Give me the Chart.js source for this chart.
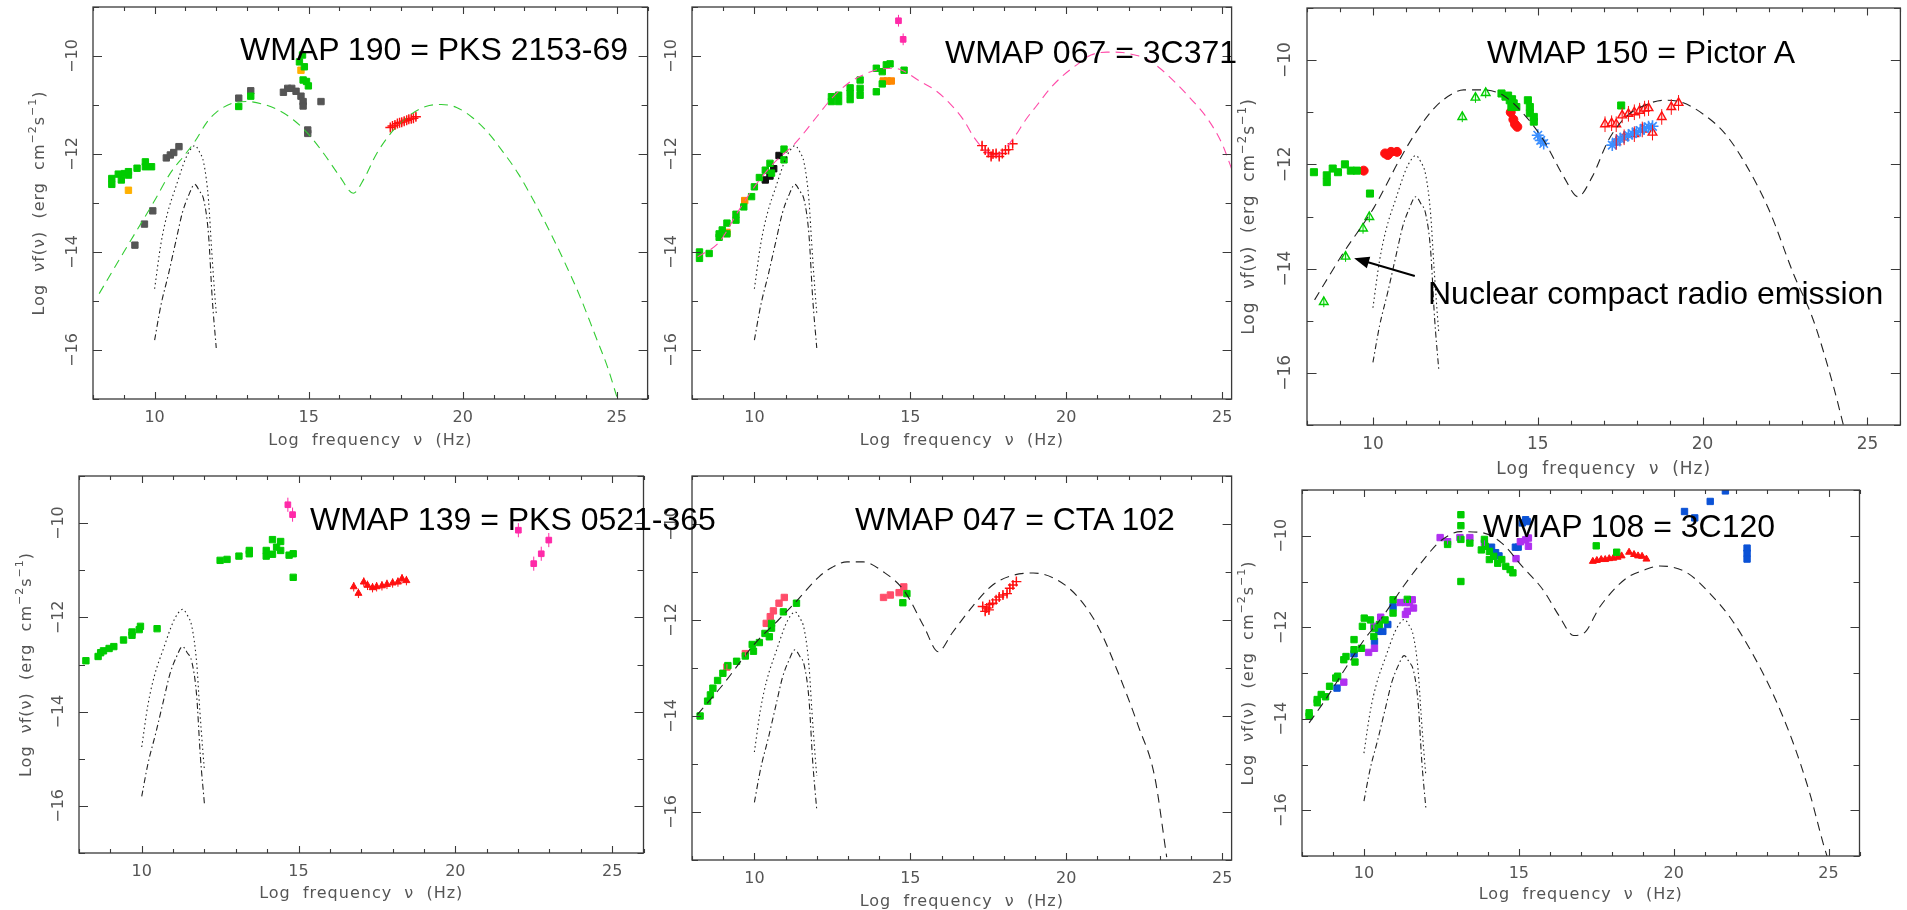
<!DOCTYPE html>
<html>
<head>
<meta charset="utf-8">
<script src="https://cdn.jsdelivr.net/npm/chart.js@4.4.1/dist/chart.umd.min.js"></script>
<style>
html, body { margin: 0; padding: 0; background: #fff; }
#stage { position: relative; width: 1907px; height: 910px; overflow: hidden; }
#stage canvas { position: absolute; }
#labels { position: absolute; left: 0; top: 0; pointer-events: none; }
#labels text { font-family: "Liberation Sans", Arial, sans-serif; font-size: 32px; fill: #000; }
</style>
</head>
<body>
<div id="stage">
  <canvas id="c1"></canvas>
  <canvas id="c2"></canvas>
  <canvas id="c3"></canvas>
  <canvas id="c4"></canvas>
  <canvas id="c5"></canvas>
  <canvas id="c6"></canvas>
  <svg id="labels" width="1907" height="910">
    <text x="240" y="60">WMAP 190 = PKS 2153-69</text>
    <text x="945" y="63">WMAP 067 = 3C371</text>
    <text x="1487" y="63">WMAP 150 = Pictor A</text>
    <text x="1428" y="304">Nuclear compact radio emission</text>
    <text x="310" y="530">WMAP 139 = PKS 0521-365</text>
    <text x="855" y="530">WMAP 047 = CTA 102</text>
    <text x="1483" y="537">WMAP 108 = 3C120</text>
  </svg>
</div>
<script>
// ---- shared WMAP curves (log nu, log nuF) ----
const wmapUpper = [[10.0,-14.75],[10.2,-13.85],[10.4,-13.25],[10.7,-12.65],[11.0,-12.1],[11.15,-11.92],[11.3,-11.83],[11.45,-11.95],[11.6,-12.2],[11.75,-12.95],[11.85,-13.95],[11.95,-14.85],[12.0,-15.25]];
const wmapLower = [[10.0,-15.8],[10.2,-15.1],[10.45,-14.45],[10.7,-13.75],[10.9,-13.2],[11.1,-12.85],[11.3,-12.62],[11.45,-12.75],[11.6,-12.95],[11.75,-13.65],[11.87,-14.95],[12.0,-15.96]];

// ---- WMAP 190 = PKS 2153-69 ----
const p1Model = [[8.2,-14.85],[9.0,-14.0],[10.0,-12.95],[10.5,-12.4],[11.0,-12.0],[11.3,-11.75],[11.7,-11.35],[12.0,-11.15],[12.5,-10.97],[13.0,-10.93],[13.5,-10.98],[14.0,-11.1],[14.5,-11.3],[15.0,-11.6],[15.5,-12.0],[16.0,-12.45],[16.45,-12.8],[16.8,-12.5],[17.2,-12.0],[17.7,-11.55],[18.3,-11.2],[18.8,-11.03],[19.3,-10.99],[19.8,-11.05],[20.3,-11.25],[20.8,-11.55],[21.3,-11.95],[21.8,-12.4],[22.3,-12.95],[22.8,-13.55],[23.3,-14.2],[23.8,-14.9],[24.3,-15.7],[24.7,-16.35],[25.0,-16.95]];
const p1Green = [[8.61,-12.5],[8.61,-12.62],[8.82,-12.41],[8.92,-12.53],[9.02,-12.40],[9.15,-12.36],[9.15,-12.43],[9.43,-12.29],[9.7,-12.16],[9.7,-12.26],[9.9,-12.26],[12.73,-11.03],[13.12,-10.82],[14.7,-10.12],[14.8,-9.98],[14.86,-10.22],[14.82,-10.49],[14.93,-10.52],[14.99,-10.61]];
const p1Orange = [[9.15,-12.74],[14.75,-10.29]];
const p1Gray = [[9.36,-13.86],[9.67,-13.43],[9.94,-13.16],[10.38,-12.08],[10.51,-12.02],[10.62,-11.97],[10.79,-11.85],[12.73,-10.86],[13.12,-10.71],[14.18,-10.74],[14.32,-10.66],[14.45,-10.66],[14.59,-10.72],[14.75,-10.82],[14.82,-10.93],[14.82,-11.02],[14.97,-11.51],[14.97,-11.58],[15.4,-10.93]];
const p1Xray = [[17.65,-11.46],[17.72,-11.43],[17.8,-11.41],[17.88,-11.38],[17.95,-11.36],[18.02,-11.35],[18.1,-11.33],[18.18,-11.31],[18.25,-11.29],[18.33,-11.28],[18.4,-11.27],[18.48,-11.24]];

// ---- WMAP 067 = 3C371 ----
const p2Model = [[8.18,-14.1],[8.87,-13.8],[9.5,-13.15],[10.0,-12.67],[10.6,-12.2],[11.31,-11.78],[12.0,-11.24],[12.5,-10.85],[13.0,-10.56],[13.5,-10.38],[14.0,-10.27],[14.5,-10.25],[14.77,-10.3],[15.27,-10.5],[15.8,-10.7],[16.27,-10.97],[16.7,-11.3],[17.03,-11.65],[17.35,-11.9],[17.65,-12.05],[17.95,-11.95],[18.34,-11.65],[18.7,-11.3],[19.03,-11.03],[19.5,-10.65],[19.91,-10.39],[20.4,-10.15],[20.79,-9.98],[21.3,-9.92],[21.8,-9.93],[22.2,-9.98],[22.55,-10.05],[23.0,-10.25],[23.3,-10.42],[23.93,-10.83],[24.56,-11.31],[25.0,-11.8],[25.3,-12.3]];
const p2Green = [[8.24,-14.0],[8.24,-14.13],[8.55,-14.03],[8.87,-13.7],[8.87,-13.63],[8.97,-13.55],[9.12,-13.41],[9.12,-13.63],[9.41,-13.35],[9.41,-13.23],[9.66,-13.08],[9.91,-12.87],[10.0,-12.67],[10.16,-12.48],[10.35,-12.33],[10.5,-12.19],[10.55,-12.39],[10.95,-11.9],[10.95,-12.12],[12.47,-10.83],[12.47,-10.93],[12.7,-10.8],[12.7,-10.93],[13.07,-10.65],[13.07,-10.76],[13.07,-10.89],[13.39,-10.49],[13.39,-10.66],[13.39,-10.8],[13.91,-10.73],[13.91,-10.25],[14.1,-10.32],[14.1,-10.57],[14.23,-10.18],[14.35,-10.16],[14.8,-10.29]];
const p2Black = [[10.35,-12.53],[10.5,-12.45],[10.62,-12.3],[10.79,-12.03]];
const p2Orange = [[9.12,-13.6],[9.69,-12.95],[14.13,-10.51],[14.26,-10.51],[14.39,-10.51]];
const p2Pink = [[14.62,-9.28],[14.77,-9.66]];
const p2Xray = [[17.3,-11.83],[17.4,-11.92],[17.5,-11.97],[17.59,-12.05],[17.65,-12.0],[17.75,-11.99],[17.85,-12.05],[17.95,-11.99],[18.05,-11.92],[18.15,-11.91],[18.28,-11.79]];

// ---- WMAP 150 = Pictor A ----
const p3Model = [[8.23,-14.6],[9.09,-13.71],[10.04,-12.82],[10.8,-11.92],[11.28,-11.41],[11.89,-10.9],[12.4,-10.65],[12.75,-10.57],[13.35,-10.57],[13.96,-10.68],[14.57,-11.03],[15.18,-11.54],[15.79,-12.24],[16.22,-12.62],[16.65,-12.24],[17.14,-11.54],[17.62,-11.12],[18.23,-10.87],[18.85,-10.77],[19.33,-10.8],[20.07,-11.06],[20.68,-11.41],[21.29,-11.98],[22.02,-12.88],[22.75,-14.09],[23.36,-14.99],[23.97,-16.26],[24.27,-17.0]];
const p3Green = [[8.21,-12.15],[8.6,-12.21],[8.6,-12.34],[8.78,-12.08],[8.94,-12.15],[9.15,-12.0],[9.33,-12.12],[9.51,-12.12],[9.91,-12.56],[13.9,-10.64],[14.02,-10.7],[14.1,-10.68],[14.15,-10.77],[14.22,-10.75],[14.27,-10.83],[14.35,-10.9],[14.2,-10.9],[14.7,-10.77],[14.76,-10.9],[14.76,-11.02],[14.88,-11.09],[14.88,-11.18],[17.53,-10.87]];
const p3GreenTri = [[8.51,-14.64],[9.17,-13.77],[9.7,-13.23],[9.89,-13.01],[12.71,-11.09],[13.11,-10.72],[13.42,-10.63]];
const p3RedDot = [[9.72,-12.12],[10.37,-11.79],[10.45,-11.82],[10.55,-11.76],[10.73,-11.76],[14.18,-11.0],[14.26,-11.14],[14.31,-11.23],[14.38,-11.28]];
const p3BlueStar = [[15.0,-11.44],[15.09,-11.54],[15.18,-11.6],[17.26,-11.63],[17.38,-11.57],[17.5,-11.51],[17.62,-11.48],[17.75,-11.44],[17.87,-11.41],[17.99,-11.38],[18.11,-11.35],[18.23,-11.31],[18.36,-11.28],[18.48,-11.27]];
const p3RedTri = [[17.04,-11.23],[17.24,-11.21],[17.38,-11.23],[17.56,-11.06],[17.75,-11.03],[17.93,-11.0],[18.09,-10.97],[18.24,-10.93],[18.36,-10.92],[18.76,-11.09],[19.05,-10.9],[19.27,-10.82],[17.38,-11.57],[17.62,-11.48],[17.93,-11.42],[18.17,-11.33],[18.48,-11.39]];
const p3Arrow = [[11.27,-14.14],[9.43,-13.8]];

// ---- WMAP 139 = PKS 0521-365 ----
const p4Green = [[8.22,-12.92],[8.61,-12.83],[8.69,-12.75],[8.78,-12.71],[8.96,-12.66],[9.11,-12.62],[9.42,-12.48],[9.69,-12.38],[9.69,-12.31],[9.92,-12.26],[9.96,-12.19],[10.49,-12.24],[12.5,-10.79],[12.72,-10.77],[13.1,-10.7],[13.43,-10.65],[13.43,-10.58],[13.97,-10.58],[13.97,-10.7],[14.17,-10.35],[14.17,-10.66],[14.3,-10.51],[14.43,-10.58],[14.43,-10.39],[14.7,-10.68],[14.83,-10.65],[14.83,-11.15]];
const p4Pink = [[14.66,-9.61],[14.81,-9.82],[22.01,-10.15],[22.5,-10.86],[22.74,-10.65],[22.98,-10.36]];
const p4RedTri = [[16.76,-11.35],[16.91,-11.49],[17.08,-11.25],[17.2,-11.32],[17.36,-11.37],[17.49,-11.35],[17.66,-11.33],[17.82,-11.3],[18.0,-11.27],[18.17,-11.25],[18.3,-11.18],[18.44,-11.22]];

// ---- WMAP 047 = CTA 102 ----
const p5Model = [[8.17,-13.97],[8.95,-13.38],[10.03,-12.48],[10.77,-12.0],[11.29,-11.65],[12.07,-11.1],[12.5,-10.9],[12.97,-10.79],[13.49,-10.79],[14.14,-11.0],[14.79,-11.38],[15.44,-12.14],[15.89,-12.66],[16.34,-12.27],[16.99,-11.72],[17.64,-11.27],[18.29,-11.07],[18.94,-11.02],[19.72,-11.17],[20.37,-11.52],[21.02,-12.14],[21.67,-13.11],[22.31,-14.21],[22.83,-15.25],[23.22,-16.94]];
const p5Green = [[8.26,-14.0],[8.5,-13.69],[8.59,-13.56],[8.67,-13.42],[8.82,-13.26],[8.99,-13.11],[9.15,-12.95],[9.43,-12.86],[9.71,-12.75],[9.97,-12.65],[9.93,-12.51],[10.16,-12.47],[10.34,-12.28],[10.48,-12.35],[10.55,-12.17],[10.55,-12.07],[10.93,-11.83],[11.35,-11.65],[14.76,-11.64],[14.89,-11.45]];
const p5Salmon = [[9.12,-12.98],[9.71,-12.7],[10.38,-12.07],[10.51,-11.93],[10.61,-11.81],[10.79,-11.65],[10.96,-11.53],[14.14,-11.53],[14.36,-11.48],[14.64,-11.43],[14.79,-11.31]];
const p5Xray = [[17.32,-11.72],[17.4,-11.82],[17.45,-11.75],[17.52,-11.79],[17.54,-11.68],[17.64,-11.65],[17.75,-11.58],[17.85,-11.52],[17.97,-11.48],[18.1,-11.45],[18.19,-11.34],[18.29,-11.27],[18.4,-11.2]];

// ---- WMAP 108 = 3C120 ----
const p6Model = [[8.23,-14.09],[8.76,-13.58],[9.4,-12.9],[10.01,-12.27],[10.61,-11.76],[11.27,-11.11],[11.93,-10.52],[12.46,-10.12],[13.13,-9.91],[13.79,-9.93],[14.45,-10.16],[15.11,-10.67],[15.78,-11.18],[16.31,-11.76],[16.77,-12.18],[17.1,-12.13],[17.63,-11.54],[18.43,-10.95],[19.09,-10.74],[19.55,-10.66],[20.41,-10.8],[21.21,-11.29],[21.87,-11.83],[22.53,-12.56],[23.19,-13.43],[23.86,-14.53],[24.39,-15.62],[24.85,-16.78],[24.95,-17.0]];
const p6Green = [[8.23,-13.87],[8.23,-13.94],[8.49,-13.58],[8.49,-13.65],[8.62,-13.47],[8.76,-13.52],[8.89,-13.29],[9.09,-13.11],[9.15,-13.07],[9.35,-12.71],[9.42,-12.64],[9.68,-12.49],[9.68,-12.27],[9.71,-12.76],[9.92,-12.46],[9.95,-11.98],[10.01,-11.8],[10.21,-11.84],[10.34,-12.02],[10.32,-12.2],[10.5,-11.94],[10.68,-11.84],[10.94,-11.4],[10.94,-11.69],[11.4,-11.39],[12.7,-10.19],[13.13,-9.54],[13.13,-9.78],[13.13,-10.08],[13.13,-11.0],[13.42,-10.16],[13.79,-10.31],[13.89,-10.08],[13.92,-10.23],[14.05,-10.34],[14.05,-10.52],[14.19,-10.45],[14.32,-10.6],[14.45,-10.52],[14.58,-10.67],[14.72,-10.74],[14.81,-10.81],[17.5,-10.22],[18.16,-10.36]];
const p6Purple = [[9.35,-13.2],[10.15,-12.55],[10.34,-12.46],[10.32,-11.98],[10.54,-11.78],[11.17,-11.46],[11.34,-11.46],[11.47,-11.46],[11.56,-11.4],[11.34,-11.72],[11.4,-11.65],[11.6,-11.58],[12.46,-10.04],[12.7,-10.13],[13.1,-10.04],[13.42,-10.04],[13.89,-10.16],[14.91,-10.5],[15.05,-10.13],[15.22,-10.09],[15.31,-10.23],[15.31,-10.05]];
const p6Blue = [[9.13,-13.33],[9.68,-12.58],[10.34,-12.31],[10.48,-12.09],[10.61,-12.09],[10.77,-11.94],[10.94,-11.55],[14.12,-10.25],[14.25,-10.37],[14.36,-10.44],[14.89,-10.25],[14.98,-10.25],[15.11,-9.72],[15.22,-9.65],[15.27,-9.69],[20.35,-9.47],[20.68,-9.61],[21.18,-9.25],[21.67,-9.02],[22.37,-10.27],[22.37,-10.38],[22.37,-10.51]];
const p6RedTri = [[17.39,-10.56],[17.52,-10.54],[17.66,-10.52],[17.79,-10.52],[17.92,-10.5],[18.05,-10.49],[18.19,-10.47],[18.32,-10.44],[18.56,-10.36],[18.72,-10.41],[18.85,-10.44],[18.98,-10.45],[19.12,-10.51]];

const xTickLabels = ['10', '15', '20', '25'];
const yTickLabels = ['\u221210', '\u221212', '\u221214', '\u221216'];

const GREEN = '#00cc00', GRAY = '#555555', RED = '#ff1010', PINK = '#ff2aa8';

const pts = arr => arr.map(([x, y]) => ({ x, y }));

function curve(arr, color, dash) {
    return {
        data: pts(arr), showLine: true, pointRadius: 0, borderColor: color,
        borderWidth: 1.1, borderDash: dash, cubicInterpolationMode: 'monotone', fill: false
    };
}
const dotted = () => curve(wmapUpper, '#222', [1.5, 3]);
const dashDot = () => curve(wmapLower, '#222', [6, 3, 1.5, 3]);

function marks(arr, style, color, extra) {
    return Object.assign({
        data: pts(arr), showLine: false, pointStyle: style, pointRadius: 4.5,
        backgroundColor: color, borderColor: color, borderWidth: 1
    }, extra || {});
}
const crosses = (arr, color) => marks(arr, 'cross', color, { pointRadius: 5, borderWidth: 1.4, errBar: 0.08 });

// inward ticks, frame, tick labels and axis titles, PGPLOT style
const sedFrame = {
    id: 'sedFrame',
    afterDatasetsDraw(chart, args, o) {
        const { ctx, scales: { x, y } } = chart;
        ctx.save();
        chart.data.datasets.forEach(ds => {
            if (!ds.errBar) return;
            ctx.strokeStyle = ds.borderColor;
            ctx.lineWidth = 1;
            ctx.beginPath();
            ds.data.forEach(p => {
                const px = x.getPixelForValue(p.x);
                ctx.moveTo(px, y.getPixelForValue(p.y - ds.errBar));
                ctx.lineTo(px, y.getPixelForValue(p.y + ds.errBar));
            });
            ctx.stroke();
        });
        if (o.arrow) {
            const [a, b] = o.arrow;
            const x0 = x.getPixelForValue(a[0]), y0 = y.getPixelForValue(a[1]);
            const x1 = x.getPixelForValue(b[0]), y1 = y.getPixelForValue(b[1]);
            const ang = Math.atan2(y1 - y0, x1 - x0);
            ctx.strokeStyle = '#000';
            ctx.fillStyle = '#000';
            ctx.lineWidth = 2;
            ctx.beginPath();
            ctx.moveTo(x0, y0);
            ctx.lineTo(x1 - 10 * Math.cos(ang), y1 - 10 * Math.sin(ang));
            ctx.stroke();
            ctx.beginPath();
            ctx.moveTo(x1, y1);
            ctx.lineTo(x1 - 15 * Math.cos(ang) + 6 * Math.sin(ang), y1 - 15 * Math.sin(ang) - 6 * Math.cos(ang));
            ctx.lineTo(x1 - 15 * Math.cos(ang) - 6 * Math.sin(ang), y1 - 15 * Math.sin(ang) + 6 * Math.cos(ang));
            ctx.closePath();
            ctx.fill();
        }
        ctx.restore();
    },
    afterDraw(chart, args, o) {
        const { ctx, chartArea: a, scales: { x, y } } = chart;
        const s = o.s || 1;
        ctx.save();
        ctx.strokeStyle = '#3a3a3a';
        ctx.lineWidth = 1.3;
        ctx.strokeRect(a.left, a.top, a.right - a.left, a.bottom - a.top);

        ctx.lineWidth = 1.1;
        ctx.beginPath();
        for (let v = Math.ceil(x.min); v <= x.max; v++) {
            const px = Math.round(x.getPixelForValue(v)) + 0.5;
            const len = v % 5 === 0 ? 7 * s : 4 * s;
            ctx.moveTo(px, a.bottom); ctx.lineTo(px, a.bottom - len);
            ctx.moveTo(px, a.top); ctx.lineTo(px, a.top + len);
        }
        for (let v = Math.ceil(y.min); v <= y.max; v++) {
            const py = Math.round(y.getPixelForValue(v)) + 0.5;
            const len = v % 2 === 0 ? 9 * s : 6 * s;
            ctx.moveTo(a.left, py); ctx.lineTo(a.left + len, py);
            ctx.moveTo(a.right, py); ctx.lineTo(a.right - len, py);
        }
        ctx.stroke();

        ctx.fillStyle = '#555';
        ctx.font = (16 * s) + 'px "DejaVu Sans", sans-serif';
        ctx.textAlign = 'center';
        ctx.textBaseline = 'alphabetic';
        xTickLabels.forEach(t => {
            const v = Number(t);
            if (v > x.max) return;
            ctx.fillText(t, x.getPixelForValue(v), a.bottom + o.lab);
        });
        yTickLabels.forEach(t => {
            const v = -Number(t.slice(1));
            ctx.save();
            ctx.translate(a.left - 20 * s, y.getPixelForValue(v));
            ctx.rotate(-Math.PI / 2);
            ctx.textBaseline = 'middle';
            ctx.fillText(t, 0, 0);
            ctx.restore();
        });

        ctx.letterSpacing = '1px';
        ctx.fillText('Log  frequency  \u03bd  (Hz)', (a.left + a.right) / 2, a.bottom + o.tit);

        if (o.yTitle) {
            const parts = [['Log  \u03bdf(\u03bd)  (erg  cm', 0], ['\u22122', 1], ['s', 0], ['\u22121', 1], [')', 0]];
            const big = (16 * s) + 'px "DejaVu Sans", sans-serif';
            const small = (11 * s) + 'px "DejaVu Sans", sans-serif';
            let total = 0;
            parts.forEach(p => { ctx.font = p[1] ? small : big; total += ctx.measureText(p[0]).width; });
            ctx.save();
            ctx.translate(a.left - o.yOff, (a.top + a.bottom) / 2);
            ctx.rotate(-Math.PI / 2);
            ctx.textAlign = 'left';
            ctx.textBaseline = 'middle';
            let cx = -total / 2;
            parts.forEach(p => {
                ctx.font = p[1] ? small : big;
                ctx.fillText(p[0], cx, p[1] ? -7 * s : 0);
                cx += ctx.measureText(p[0]).width;
            });
            ctx.restore();
        }
        ctx.restore();
    }
};

const panels = [
    { id: 'c1', L: 93, T: 7, R: 652, B: 399, xMax: 26, lab: 23, tit: 46, yOff: 53, yTitle: true, s: 1,
      datasets: [curve(p1Model, '#33cc33', [9, 6]), dotted(), dashDot(),
                 marks(p1Green, 'rect', GREEN), marks(p1Gray, 'rect', GRAY), marks(p1Orange, 'rect', '#ffb000'),
                 crosses(p1Xray, RED)] },
    { id: 'c2', L: 692, T: 7, R: 1236, B: 399, xMax: 25.3, lab: 23, tit: 46, yOff: 53, yTitle: false, s: 1,
      datasets: [curve(p2Model, '#ff4aa8', [9, 6]), dotted(), dashDot(),
                 marks(p2Green, 'rect', GREEN), marks(p2Black, 'rect', '#111'), marks(p2Orange, 'rect', '#ff8800'),
                 marks(p2Pink, 'rect', PINK, { pointRadius: 4, errBar: 0.12 }),
                 crosses(p2Xray, RED)] },
    { id: 'c3', L: 1307, T: 8, R: 1906, B: 425, xMax: 26, lab: 24, tit: 49, yOff: 57, yTitle: true, s: 1.06,
      arrow: p3Arrow,
      datasets: [curve(p3Model, '#222', [9, 6]), dotted(), dashDot(),
                 marks(p3Green, 'rect', GREEN, { pointRadius: 5 }),
                 marks(p3GreenTri, 'triangle', GREEN, { backgroundColor: 'rgba(200,255,200,0.6)', borderWidth: 1.4, pointRadius: 5, errBar: 0.1 }),
                 marks(p3RedDot, 'circle', RED, { pointRadius: 4.5 }),
                 marks(p3BlueStar, 'star', '#3a8eff', { pointRadius: 6, borderWidth: 1.6 }),
                 marks(p3RedTri, 'triangle', RED, { backgroundColor: 'rgba(255,200,200,0.6)', borderWidth: 1.4, pointRadius: 5, errBar: 0.15 })] },
    { id: 'c4', L: 79, T: 476, R: 647, B: 853, xMax: 26, lab: 23, tit: 45, yOff: 52, yTitle: true, s: 1,
      datasets: [dotted(), dashDot(),
                 marks(p4Green, 'rect', GREEN),
                 marks(p4Pink, 'rect', PINK, { pointRadius: 4, errBar: 0.15 }),
                 marks(p4RedTri, 'triangle', RED, { pointRadius: 4, errBar: 0.1 })] },
    { id: 'c5', L: 692, T: 476, R: 1236, B: 860, xMax: 25.3, lab: 23, tit: 46, yOff: 53, yTitle: false, s: 1,
      datasets: [curve(p5Model, '#222', [9, 6]), dotted(), dashDot(),
                 marks(p5Green, 'rect', GREEN),
                 marks(p5Salmon, 'rect', '#ff4d6a', { errBar: 0.06 }),
                 crosses(p5Xray, RED)] },
    { id: 'c6', L: 1302, T: 490, R: 1863, B: 856, xMax: 26, lab: 22, tit: 43, yOff: 53, yTitle: true, s: 1,
      datasets: [curve(p6Model, '#222', [9, 6]), dotted(), dashDot(),
                 marks(p6Green, 'rect', GREEN, { errBar: 0.06 }),
                 marks(p6Purple, 'rect', '#b030f0', { errBar: 0.06 }),
                 marks(p6Blue, 'rect', '#0b52d6'),
                 marks(p6RedTri, 'triangle', RED, { pointRadius: 4 })] }
];

const PADL = 72, PADR = 2, PADB = 56;

panels.forEach(p => {
    const padT = p.T < 100 ? p.T : 20;
    const cv = document.getElementById(p.id);
    const w = (p.R - p.L) + PADL + PADR;
    const h = (p.B - p.T) + padT + PADB;
    cv.width = w; cv.height = h;
    cv.style.width = w + 'px'; cv.style.height = h + 'px';
    cv.style.left = (p.L - PADL) + 'px';
    cv.style.top = (p.T - padT) + 'px';

    new Chart(cv, {
        type: 'scatter',
        data: { datasets: p.datasets },
        options: {
            responsive: false,
            animation: false,
            devicePixelRatio: 1,
            layout: { padding: { left: PADL, right: PADR, top: padT, bottom: PADB } },
            plugins: {
                legend: { display: false },
                tooltip: { enabled: false },
                sedFrame: { lab: p.lab, tit: p.tit, yOff: p.yOff, yTitle: p.yTitle, s: p.s, arrow: p.arrow }
            },
            scales: {
                x: { type: 'linear', display: false, min: 8, max: p.xMax },
                y: { type: 'linear', display: false, min: -17, max: -9 }
            }
        },
        plugins: [sedFrame]
    });
});
</script>
</body>
</html>
